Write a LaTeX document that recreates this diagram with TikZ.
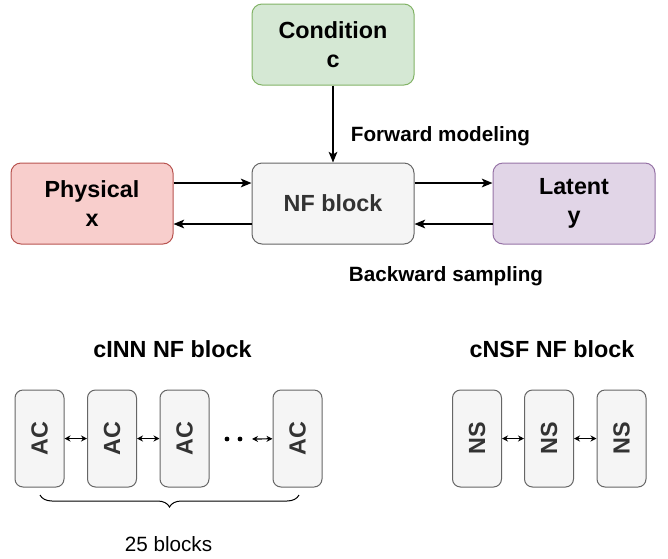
\documentclass[tikz,border=0pt]{standalone}
\usepackage{fontspec}
\setmainfont{Liberation Sans}
\usetikzlibrary{arrows.meta,decorations.pathreplacing}
\definecolor{gfill}{HTML}{D5E8D4}\definecolor{gdraw}{HTML}{82B366}
\definecolor{rfill}{HTML}{F8CECC}\definecolor{rdraw}{HTML}{B85450}
\definecolor{pfill}{HTML}{E1D5E7}\definecolor{pdraw}{HTML}{9673A6}
\definecolor{nfill}{HTML}{F5F5F5}\definecolor{ndraw}{HTML}{666666}
\definecolor{ntext}{HTML}{333333}
\begin{document}
\begin{tikzpicture}[x=0.75pt,y=-0.75pt,
  bigbox/.style={rectangle,rounded corners=7.5pt,line width=0.75pt,minimum width=121.5pt,minimum height=60.75pt,inner sep=0pt,font=\fontsize{17.5}{22}\selectfont\bfseries,align=center},
  smallbox/.style={rectangle,rounded corners=6pt,line width=0.75pt,draw=ndraw,fill=nfill,text=ntext,minimum width=36.75pt,minimum height=72.75pt,inner sep=0pt,font=\fontsize{17.5}{20}\selectfont\bfseries},
  flow/.style={-{Stealth[length=8pt,width=6.5pt,inset=2pt]},line width=1.4pt},
  small/.style={{Stealth[length=4.5pt,width=4.5pt]}-{Stealth[length=4.5pt,width=4.5pt]},line width=0.9pt},
  lbl/.style={font=\fontsize{15.5}{18}\selectfont\bfseries},
  title/.style={font=\fontsize{17.5}{20}\selectfont\bfseries}]
\useasboundingbox (0,0) rectangle (668,558);
\node[bigbox,draw=gdraw,fill=gfill] (cond) at (333,44.5) {Condition\\c};
\node[bigbox,draw=ndraw,fill=nfill,text=ntext] (nf) at (333,203.5) {NF block};
\node[bigbox,draw=rdraw,fill=rfill] (phys) at (92,203.5) {Physical\\x};
\node[bigbox,draw=pdraw,fill=pfill] (lat) at (574,203.5) {Latent\\y};
\draw[flow] (cond) -- (nf);
\draw[flow] (phys.east |- 0,183) -- (nf.west |- 0,183);
\draw[flow] (nf.west |- 0,224) -- (phys.east |- 0,224);
\draw[flow] (nf.east |- 0,183) -- (lat.west |- 0,183);
\draw[flow] (lat.west |- 0,224) -- (nf.east |- 0,224);
\node[lbl] (fwd) at (440.5,136) {Forward modeling};
\node[lbl] (bwd) at (446,276) {Backward sampling};
\node[title] (t1) at (172.5,349) {cINN NF block};
\node[title] (t2) at (552,349) {cNSF NF block};
\node[smallbox] (a1) at (39.5,438.5) {\rotatebox{90}{AC}};
\node[smallbox] (a2) at (112,438.5) {\rotatebox{90}{AC}};
\node[smallbox] (a3) at (184.5,438.5) {\rotatebox{90}{AC}};
\node[smallbox] (a4) at (297.5,438.5) {\rotatebox{90}{AC}};
\draw[small] (a1) -- (a2);
\draw[small] (a2) -- (a3);
\fill (227,439) circle (1.8pt);
\fill (240,439) circle (1.8pt);
\coordinate (dend) at (252,439);
\draw[small] (dend) -- (a4);
\node[smallbox] (n1) at (477,438.5) {\rotatebox{90}{NS}};
\node[smallbox] (n2) at (549,438.5) {\rotatebox{90}{NS}};
\node[smallbox] (n3) at (621.5,438.5) {\rotatebox{90}{NS}};
\draw[small] (n1) -- (n2);
\draw[small] (n2) -- (n3);
\coordinate (bl) at (40,495);
\coordinate (br) at (299,495);
\draw[line width=0.75pt,decorate,decoration={brace,mirror,amplitude=9pt}] (bl) -- (br);
\node[font=\fontsize{15.5}{18}\selectfont] (nb) at (168.5,544) {25 blocks};
\end{tikzpicture}
\end{document}
